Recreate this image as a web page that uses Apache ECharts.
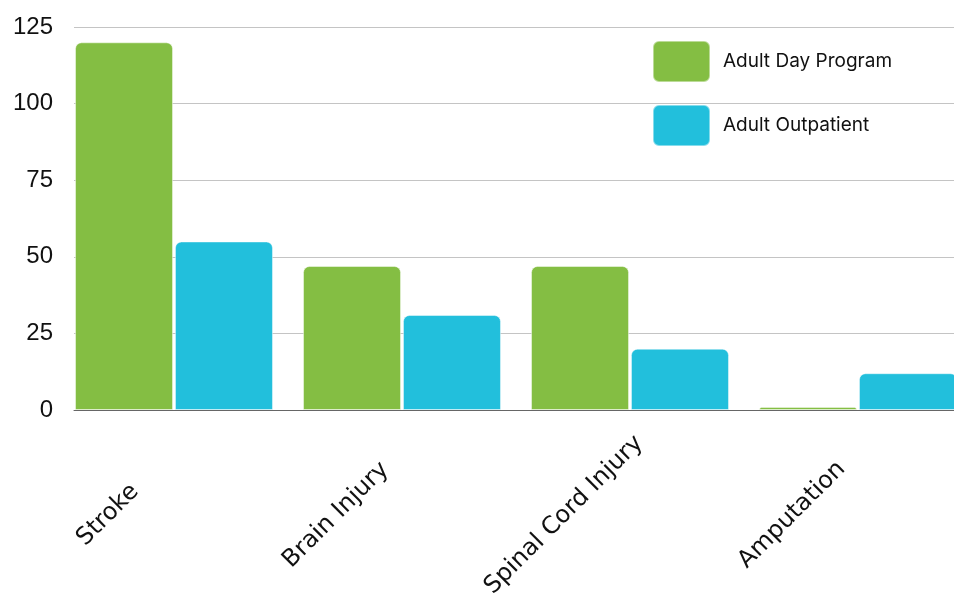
<!DOCTYPE html>
<html>
<head>
<meta charset="utf-8">
<script src="https://cdn.jsdelivr.net/npm/echarts@6/dist/echarts.min.js"></script>
<style>html,body{margin:0;padding:0;background:#fff}#c{width:954px;height:599px}</style>
</head>
<body>
<div id="c"></div>
<script>
const categories = ['Stroke', 'Brain Injury', 'Spinal Cord Injury', 'Amputation'];
const dayProgram = [120, 47, 47, 1];
const outpatient = [55, 31, 20, 12];
const seriesNames = ['Adult Day Program', 'Adult Outpatient'];
const yTicks = { min: 0, max: 125, interval: 25 };

const chart = echarts.init(document.getElementById('c'), null, { renderer: 'canvas' });
const iconPath = 'path://M6,0 H51 A6,6 0 0 1 57,6 V35 A6,6 0 0 1 51,41 H6 A6,6 0 0 1 0,35 V6 A6,6 0 0 1 6,0 Z';
chart.setOption({
  animation: false,
  backgroundColor: '#ffffff',
  legend: {
    orient: 'vertical',
    left: 652, top: 40, padding: 0,
    itemWidth: 57, itemHeight: 41, itemGap: 21,
    icon: iconPath,
    textStyle: { fontFamily: 'Inter', fontSize: 19, color: '#111', padding: [0, 0, 0, 8] },
    data: seriesNames
  },
  grid: [
    { left: 60, right: -18, top: 27, height: 383, containLabel: false, outerBoundsMode: 'none' },
    { left: 74, right: 0, top: 27, height: 383, containLabel: false, outerBoundsMode: 'none' },
    { left: -6, right: 48, top: 27, height: 383, containLabel: false, outerBoundsMode: 'none' }
  ],
  xAxis: [
    { type: 'category', gridIndex: 0, data: categories, axisLine: { show: false }, axisTick: { show: false }, axisLabel: { show: false } },
    { type: 'value', gridIndex: 1, min: 0, max: 1, axisLine: { show: true, onZero: false, lineStyle: { color: '#666', width: 1 } }, axisTick: { show: false }, axisLabel: { show: false }, splitLine: { show: false } },
    { type: 'category', gridIndex: 2, data: categories, axisLine: { show: false }, axisTick: { show: false },
      axisLabel: { interval: 0, rotate: 45, align: 'center', verticalAlign: 'middle', margin: 105, fontFamily: 'DejaVu Sans', fontSize: 24, color: '#111', hideOverlap: false } }
  ],
  yAxis: [
    { type: 'value', gridIndex: 0, min: yTicks.min, max: yTicks.max, interval: yTicks.interval, show: false, splitLine: { show: false } },
    { type: 'value', gridIndex: 1, min: yTicks.min, max: yTicks.max, interval: yTicks.interval,
      axisLine: { show: false }, axisTick: { show: false },
      axisLabel: { margin: 21, fontFamily: 'Liberation Sans', fontSize: 24, color: '#111' },
      splitLine: { show: true, lineStyle: { color: '#c4c4c4', width: 1 } } },
    { type: 'value', gridIndex: 2, min: yTicks.min, max: yTicks.max, show: false, splitLine: { show: false } }
  ],
  series: [
    { name: seriesNames[0], type: 'bar', xAxisIndex: 0, yAxisIndex: 0, data: dayProgram, barWidth: 98, barGap: '2%',
      itemStyle: { color: '#84be43', borderRadius: [6, 6, 0, 0], borderColor: 'rgba(255,255,255,0.45)', borderWidth: 1 }, z: 1 },
    { name: seriesNames[1], type: 'bar', xAxisIndex: 0, yAxisIndex: 0, data: outpatient, barWidth: 98,
      itemStyle: { color: '#22bfdc', borderRadius: [6, 6, 0, 0], borderColor: 'rgba(255,255,255,0.45)', borderWidth: 1 }, z: 1 }
  ]
});
</script>
</body>
</html>
